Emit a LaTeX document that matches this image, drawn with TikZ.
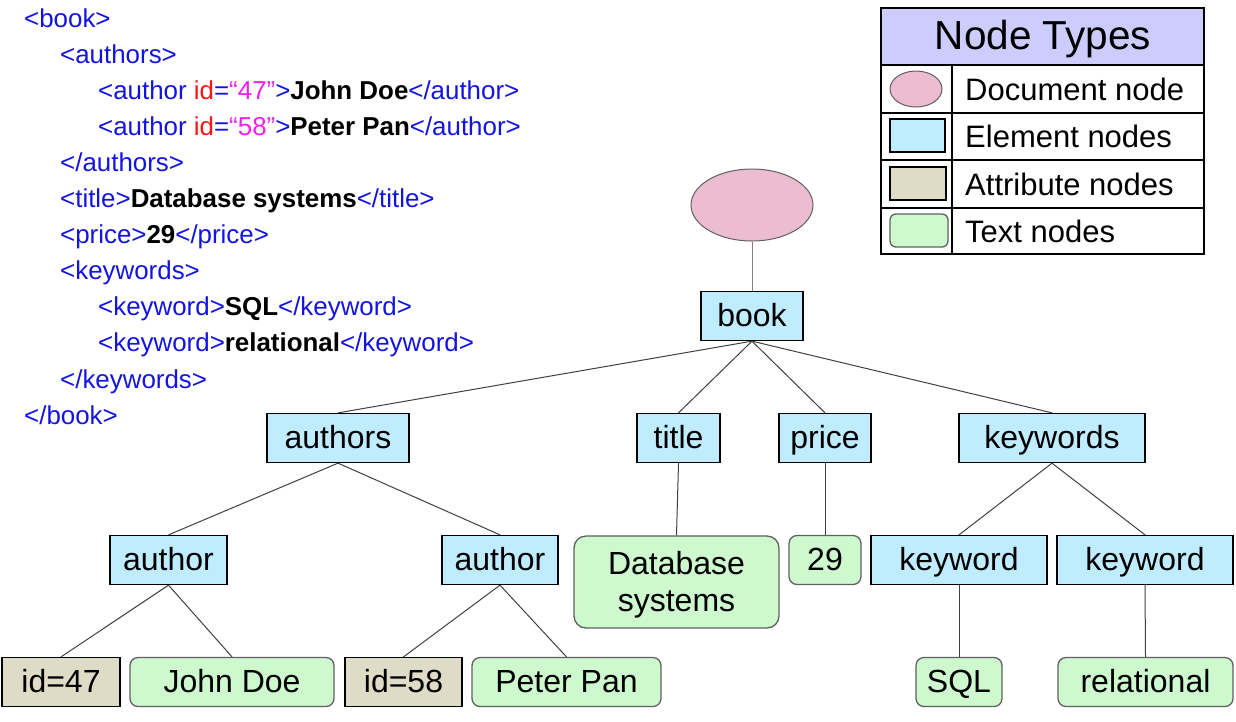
\documentclass[tikz,border=0pt]{standalone}
\usepackage{fontspec}
\setmainfont{Liberation Sans}
\usetikzlibrary{shapes.geometric}
\definecolor{elem}{HTML}{C0ECFF}
\definecolor{attr}{HTML}{DEDCC6}
\definecolor{txt}{HTML}{CEF8CE}
\definecolor{doc}{HTML}{ECBCD0}
\definecolor{hdr}{HTML}{CCCCFF}
\definecolor{cblue}{HTML}{1414E0}
\definecolor{cred}{HTML}{FF1414}
\definecolor{cmag}{HTML}{F020F0}
\definecolor{edgec}{HTML}{404040}
\definecolor{txtborder}{HTML}{606060}
\newcommand\xatt[1]{\textcolor{cred}{#1}}
\newcommand\xval[1]{\textcolor{cmag}{#1}}
\tikzset{
 nodefont/.style={font=\fontsize{32}{37}\selectfont},
 elemnode/.style={draw=black, line width=1.3pt, fill=elem, inner sep=0pt, minimum height=49pt, nodefont, text height=23pt, text depth=3pt},
 attrnode/.style={draw=black, line width=1.3pt, fill=attr, inner sep=0pt, minimum height=49pt, nodefont, text height=23pt, text depth=3pt},
 txtnode/.style={draw=txtborder, line width=1.3pt, fill=txt, rounded corners=8pt, inner sep=0pt, minimum height=49pt, nodefont, text height=23pt, text depth=3pt},
 docnode/.style={draw=txtborder, line width=1pt, fill=doc, ellipse, inner sep=0pt},
 edge/.style={draw=edgec, line width=1pt},
 codeline/.style={anchor=base west, inner sep=0pt, font=\fontsize{25.9}{30}\selectfont, text=cblue},
 legtext/.style={anchor=west, inner sep=0pt, font=\fontsize{31}{36}\selectfont},
 legline/.style={draw=black, line width=1.3pt},
}
\begin{document}
\begin{tikzpicture}[x=1pt,y=-1pt]
\useasboundingbox (0,0) rectangle (1236,721);
% ---------- XML code ----------
\node[codeline] (c0) at (24,27) {<book>};
\node[codeline] (c1) at (60,63.1) {<authors>};
\node[codeline] (c2) at (98,99.2) {<author \xatt{id}=\xval{“47”}>\textcolor{black}{\textbf{John Doe}}</author>};
\node[codeline] (c3) at (98,135.3) {<author \xatt{id}=\xval{“58”}>\textcolor{black}{\textbf{Peter Pan}}</author>};
\node[codeline] (c4) at (60,171.4) {</authors>};
\node[codeline] (c5) at (60,207.5) {<title>\textcolor{black}{\textbf{Database systems}}</title>};
\node[codeline] (c6) at (60,243.6) {<price>\textcolor{black}{\textbf{29}}</price>};
\node[codeline] (c7) at (60,279.7) {<keywords>};
\node[codeline] (c8) at (98,315.8) {<keyword>\textcolor{black}{\textbf{SQL}}</keyword>};
\node[codeline] (c9) at (98,351.9) {<keyword>\textcolor{black}{\textbf{relational}}</keyword>};
\node[codeline] (c10) at (60,388) {</keywords>};
\node[codeline] (c11) at (24,424) {</book>};
% ---------- legend ----------
\fill[hdr] (881,8) rectangle (1204,65);
\draw[legline] (881,8) rectangle (1204,254);
\draw[legline] (881,65) -- (1204,65);
\draw[legline] (881,113) -- (1204,113);
\draw[legline] (881,160) -- (1204,160);
\draw[legline] (881,208) -- (1204,208);
\draw[legline] (952,65) -- (952,254);
\node[inner sep=0pt, font=\fontsize{40.5}{46}\selectfont] (lt) at (1043,39) {Node Types};
\node[docnode, minimum width=52pt, minimum height=36pt] (ld) at (916,89) {};
\node[draw=black, line width=1.3pt, fill=elem, minimum width=55pt, minimum height=33pt, inner sep=0pt] (le) at (917.5,135.5) {};
\node[draw=black, line width=1.3pt, fill=attr, minimum width=56pt, minimum height=33pt, inner sep=0pt] (la) at (918,183.5) {};
\node[draw=txtborder, line width=1.3pt, fill=txt, rounded corners=6pt, minimum width=58pt, minimum height=33pt, inner sep=0pt] (lx) at (919,230.5) {};
\node[legtext] (ldt) at (965,89.5) {Document node};
\node[legtext] (let) at (965,136.5) {Element nodes};
\node[legtext] (lat) at (965,184.5) {Attribute nodes};
\node[legtext] (lxt) at (965,231.5) {Text nodes};
% ---------- tree ----------
\node[docnode, minimum width=122pt, minimum height=72pt] (doc) at (752,205) {};
\node[elemnode, minimum width=102pt] (book) at (752,316) {book};
\node[elemnode, minimum width=142pt] (authors) at (338,438) {authors};
\node[elemnode, minimum width=83pt] (title) at (678.5,438) {title};
\node[elemnode, minimum width=92pt] (price) at (825,438) {price};
\node[elemnode, minimum width=186pt] (keywords) at (1052,438) {keywords};
\node[elemnode, minimum width=117pt] (author1) at (168.5,560) {author};
\node[elemnode, minimum width=116pt] (author2) at (500,560) {author};
\node[elemnode, minimum width=176pt] (keyword1) at (959,560) {keyword};
\node[elemnode, minimum width=176pt] (keyword2) at (1145,560) {keyword};
\node[draw=txtborder, line width=1.3pt, fill=txt, rounded corners=12pt, inner sep=0pt, minimum width=205pt, minimum height=92pt, nodefont] (dbs) at (676.5,582) {\raisebox{-4pt}[\height][\depth]{\begin{tabular}{@{}c@{}}Database\\systems\end{tabular}}};
\node[txtnode, minimum width=72pt] (p29) at (825,560) {29};
\node[attrnode, minimum width=118pt] (id47) at (61,682) {id=47};
\node[txtnode, minimum width=204pt] (jd) at (232,682) {John Doe};
\node[attrnode, minimum width=117pt] (id58) at (403.5,682) {id=58};
\node[txtnode, minimum width=189pt] (pp) at (566.5,682) {Peter Pan};
\node[txtnode, minimum width=86pt] (sql) at (959,682) {SQL};
\node[txtnode, minimum width=175pt] (rel) at (1145.5,682) {relational};
% ---------- connectors ----------
\draw[edge, draw=gray] (doc.south) -- (book.north);
\draw[edge] (book.south) -- (authors.north);
\draw[edge] (book.south) -- (title.north);
\draw[edge] (book.south) -- (price.north);
\draw[edge] (book.south) -- (keywords.north);
\draw[edge] (authors.south) -- (author1.north);
\draw[edge] (authors.south) -- (author2.north);
\draw[edge] (author1.south) -- (id47.north);
\draw[edge] (author1.south) -- (jd.north);
\draw[edge] (author2.south) -- (id58.north);
\draw[edge] (author2.south) -- (pp.north);
\draw[edge] (title.south) -- (dbs.north);
\draw[edge] (price.south) -- (p29.north);
\draw[edge] (keywords.south) -- (keyword1.north);
\draw[edge] (keywords.south) -- (keyword2.north);
\draw[edge] (keyword1.south) -- (sql.north);
\draw[edge] (keyword2.south) -- (rel.north);
\end{tikzpicture}
\end{document}
